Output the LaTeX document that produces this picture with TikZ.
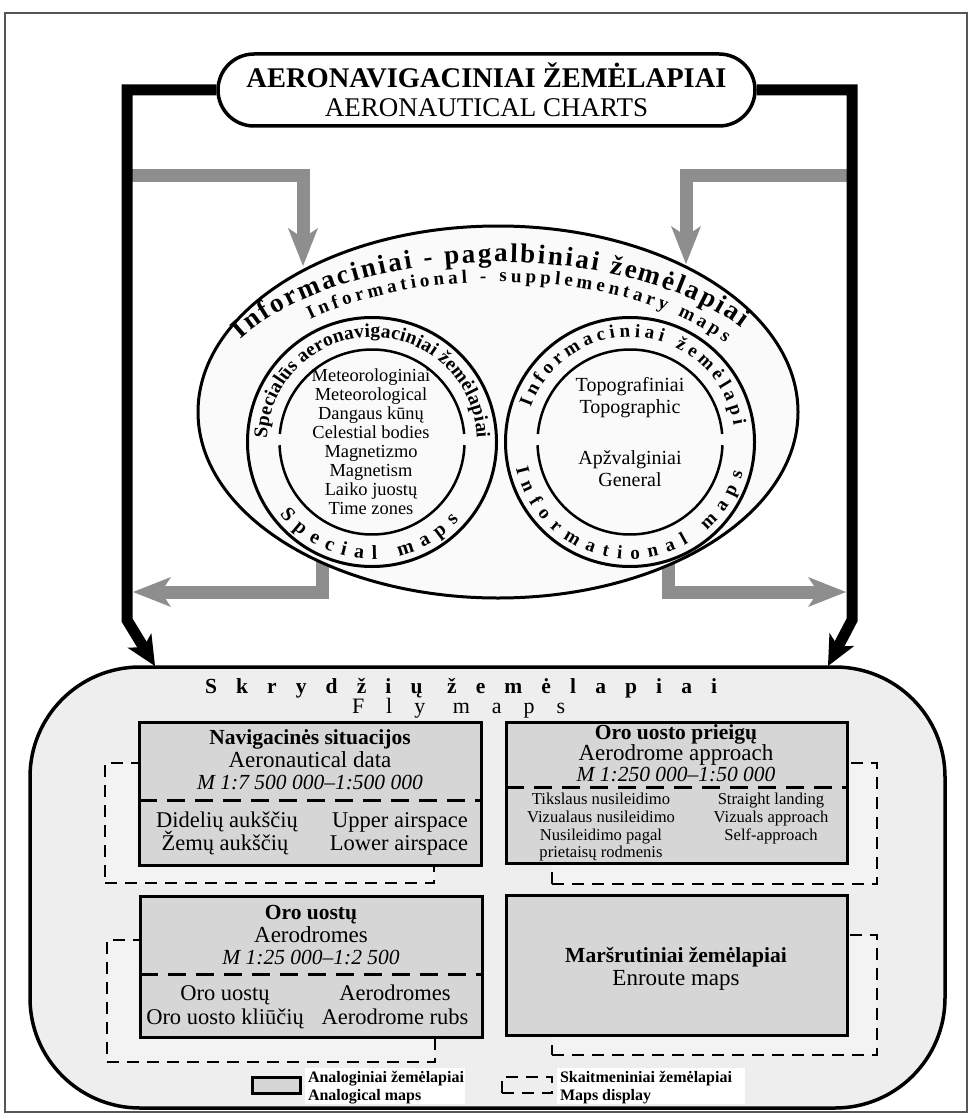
\documentclass[tikz,border=0pt]{standalone}
\usepackage{fontspec}
\setmainfont{Liberation Serif}
\usetikzlibrary{shapes.geometric,shapes.misc,arrows.meta,decorations.text}
\definecolor{boxgray}{HTML}{D6D6D6}
\definecolor{bggray}{HTML}{EEEEEE}
\definecolor{dashfill}{HTML}{F3F3F3}
\definecolor{arrgray}{HTML}{8E8E8E}
\definecolor{ellfill}{HTML}{FAFAFA}
\definecolor{framecol}{HTML}{555555}
\newcommand\fsz[2]{\fontsize{#1}{#2}\selectfont}
\begin{document}
\begin{tikzpicture}[x=1pt,y=1pt,
  t/.style={anchor=base, inner sep=0pt, outer sep=0pt},
  tw/.style={anchor=base west, inner sep=0pt, outer sep=0pt},
  mbox/.style={draw, line width=3pt, fill=boxgray, inner sep=0pt},
  dbox/.style={draw, line width=2.6pt, dash pattern=on 12pt off 8pt, fill=dashfill, inner sep=0pt},
  divider/.style={line width=3pt, dash pattern=on 18pt off 10pt},
  garrow/.style={draw=arrgray, line width=13pt, line join=miter, -{Stealth[length=38pt,width=30pt,inset=10pt,line width=0pt]}},
  barrow/.style={draw=black, line width=11pt, line join=miter, -{Stealth[length=30pt,width=28pt,inset=8pt,line width=0pt]}},
  ring/.style={line width=3pt},
  inring/.style={line width=2.5pt},
  boxb/.style={t, font=\fsz{21.5}{22}\bfseries},
  boxr/.style={t, font=\fsz{23}{24}},
  boxl/.style={t, font=\fsz{22.5}{23}},
  boxi/.style={t, font=\fsz{21.5}{22}\itshape},
  boxs/.style={t, font=\fsz{16.6}{17}},
  circt/.style={t, font=\fsz{18.4}{19}},
  circr/.style={t, font=\fsz{20}{21}},
  legt/.style={tw, font=\fsz{16}{17}\bfseries}
]
\useasboundingbox (0,0) rectangle (973,-1118);
\fill[white] (0,0) rectangle (973,-1118);
\draw[framecol, line width=1.5pt] (5,-13) rectangle (967,-1112);

% bottom container
\node[draw, line width=3.5pt, fill=bggray, rounded corners=110pt, minimum width=915pt, minimum height=441pt, inner sep=0pt] (fly) at (487.5,-887.5) {};
\node[tw, font=\fsz{21.5}{22}\bfseries\addfontfeature{LetterSpace=89}] (flyT) at (205,-693) {Skrydžių žemėlapiai};
\node[tw, font=\fsz{22}{22}\addfontfeature{LetterSpace=100}] (flyE) at (352,-713) {Fly maps};

% dashed back rectangles
\node[dbox, minimum width=329pt, minimum height=120pt] (d1) at (269.5,-823) {};
\node[dbox, minimum width=325pt, minimum height=121pt] (d2) at (714.5,-823.5) {};
\node[dbox, minimum width=328pt, minimum height=122pt] (d3) at (271,-1001) {};
\node[dbox, minimum width=325pt, minimum height=120pt] (d4) at (714.5,-995) {};

% main boxes
\node[mbox, minimum width=342pt, minimum height=143pt] (nav) at (310,-793.5) {};
\node[mbox, minimum width=341pt, minimum height=141pt] (app) at (676.5,-792.5) {};
\node[mbox, minimum width=342pt, minimum height=141pt] (aer) at (311,-966.5) {};
\node[mbox, minimum width=341pt, minimum height=140pt] (enr) at (676.5,-965) {};
\draw[divider] (139,-800) -- (481,-800);
\draw[divider] (506,-787) -- (847,-787);
\draw[divider] (140,-974) -- (482,-974);

% nav texts
\node[boxb] (n1) at (310,-744) {Navigacinės situacijos};
\node[boxr] (n2) at (310,-767) {Aeronautical data};
\node[boxi] (n3) at (310,-789) {M 1:7 500 000–1:500 000};
\node[boxl] (n4) at (227,-827) {Didelių aukščių};
\node[boxl] (n5) at (225,-850) {Žemų aukščių};
\node[boxl] (n6) at (400,-827) {Upper airspace};
\node[boxl] (n7) at (399,-850) {Lower airspace};

% approach texts
\node[boxb] (a1) at (676,-739.5) {Oro uosto prieigų};
\node[boxr] (a2) at (676,-760) {Aerodrome approach};
\node[boxi] (a3) at (676,-781) {M 1:250 000–1:50 000};
\node[boxs] (a4) at (601,-804) {Tikslaus nusileidimo};
\node[boxs] (a5) at (601,-822) {Vizualaus nusileidimo};
\node[boxs] (a6) at (601,-840) {Nusileidimo pagal};
\node[boxs] (a7) at (601,-857) {prietaisų rodmenis};
\node[boxs] (a8) at (771,-804) {Straight landing};
\node[boxs] (a9) at (771,-822) {Vizuals approach};
\node[boxs] (a10) at (771,-840) {Self-approach};

% aerodromes texts
\node[boxb] (r1) at (311,-919.5) {Oro uostų};
\node[boxr] (r2) at (311,-942) {Aerodromes};
\node[boxi] (r3) at (311,-964) {M 1:25 000–1:2 500};
\node[boxl] (r4) at (225,-1000) {Oro uostų};
\node[boxl] (r5) at (225,-1024) {Oro uosto kliūčių};
\node[boxl] (r6) at (395,-1000) {Aerodromes};
\node[boxl] (r7) at (395,-1024) {Aerodrome rubs};

% enroute texts
\node[boxb] (e1) at (676,-962.5) {Maršrutiniai žemėlapiai};
\node[boxr] (e2) at (676,-985) {Enroute maps};

% legend
\node[draw, line width=3pt, fill=boxgray, minimum width=48pt, minimum height=16pt, inner sep=0pt] (lg1) at (276,-1085) {};
\node[fill=white, minimum width=160pt, minimum height=36pt, inner sep=0pt] (lgb1) at (385,-1086) {};
\node[legt] (lt1) at (308,-1082) {Analoginiai žemėlapiai};
\node[legt] (lt2) at (308,-1100) {Analogical maps};
\node[draw, line width=2.6pt, dash pattern=on 12pt off 8pt, minimum width=50pt, minimum height=16pt, inner sep=0pt] (lg2) at (527,-1085) {};
\node[fill=white, minimum width=188pt, minimum height=36pt, inner sep=0pt] (lgb2) at (651,-1086) {};
\node[legt] (lt3) at (560,-1082) {Skaitmeniniai žemėlapiai};
\node[legt] (lt4) at (560,-1100) {Maps display};

% gray arrows
\coordinate (g1a) at (127,-176); \coordinate (g1b) at (303,-176); \coordinate (g1t) at (303,-266);
\coordinate (g2a) at (852,-176); \coordinate (g2b) at (686,-176); \coordinate (g2t) at (686,-264);
\coordinate (g3a) at (322,-540); \coordinate (g3b) at (322,-592); \coordinate (g3t) at (133,-592);
\coordinate (g4a) at (668,-540); \coordinate (g4b) at (668,-592); \coordinate (g4t) at (846,-592);
\draw[garrow] (g1a) -- (g1b) -- (g1t);
\draw[garrow] (g2a) -- (g2b) -- (g2t);
\draw[garrow] (g3a) -- (g3b) -- (g3t);
\draw[garrow] (g4a) -- (g4b) -- (g4t);

% ellipse and circles
\node[ellipse, draw, line width=3pt, fill=ellfill, minimum width=600pt, minimum height=372pt, inner sep=0pt] (info) at (498,-412) {};
\node[circle, draw, ring, fill=ellfill, minimum size=249pt, inner sep=0pt] (spec) at (372,-442) {};
\node[circle, draw, ring, fill=ellfill, minimum size=249pt, inner sep=0pt] (infm) at (630,-442) {};
\draw[inring] ([shift={(5:92.5)}]spec.center) arc[start angle=5, end angle=175, radius=92.5];
\draw[inring] ([shift={(182:92.5)}]spec.center) arc[start angle=182, end angle=358, radius=92.5];
\draw[inring] ([shift={(5:92.5)}]infm.center) arc[start angle=5, end angle=175, radius=92.5];
\draw[inring] ([shift={(182:92.5)}]infm.center) arc[start angle=182, end angle=358, radius=92.5];

% ring texts
\path[decorate, decoration={text along path, text align=fit to path, text={|\fsz{27}{27}\bfseries|Informaciniai - pagalbiniai žemėlapiai}}]
  ([shift={(151:294 and 150)}]info.center) arc[start angle=151, end angle=34, x radius=294, y radius=150];
\path[decorate, decoration={text along path, text align=fit to path, text={|\fsz{19}{19}\bfseries|Informational - supplementary maps}}]
  ([shift={(134.5:268 and 130)}]info.center) arc[start angle=134.5, end angle=32, x radius=268, y radius=130];
\path[decorate, decoration={text along path, text align=fit to path, text={|\fsz{19.5}{20}\bfseries|Specialūs aeronavigaciniai žemėlapiai}}]
  ([shift={(178:105)}]spec.center) arc[start angle=178, end angle=2, radius=105];
\path[decorate, decoration={text along path, text align=fit to path, text={|\fsz{20}{20}\bfseries|Special maps}}]
  ([shift={(218:117)}]spec.center) arc[start angle=218, end angle=318, radius=117];
\path[decorate, decoration={text along path, text align=fit to path, text={|\fsz{19}{19}\bfseries|Informaciniai žemėlapi}}]
  ([shift={(161:105)}]infm.center) arc[start angle=161, end angle=9, radius=105];
\path[decorate, decoration={text along path, text align=fit to path, text={|\fsz{19}{19}\bfseries|Informational maps}}]
  ([shift={(193:117)}]infm.center) arc[start angle=193, end angle=345, radius=117];

% circle contents
\node[circt] (s1) at (371,-381) {Meteorologiniai};
\node[circt] (s2) at (371,-400) {Meteorological};
\node[circt] (s3) at (371,-419) {Dangaus kūnų};
\node[circt] (s4) at (371,-438) {Celestial bodies};
\node[circt] (s5) at (371,-457) {Magnetizmo};
\node[circt] (s6) at (371,-476) {Magnetism};
\node[circt] (s7) at (371,-495) {Laiko juostų};
\node[circt] (s8) at (371,-514) {Time zones};
\node[circr] (i1) at (630,-391.5) {Topografiniai};
\node[circr] (i2) at (630,-413.5) {Topographic};
\node[circr] (i3) at (630,-464.5) {Apžvalginiai};
\node[circr] (i4) at (630,-486.5) {General};

% top node and black connectors
\node[rounded rectangle, draw, line width=3.5pt, fill=white, minimum width=537pt, minimum height=72pt, inner sep=0pt] (top) at (486.5,-90) {};
\node[t, font=\fsz{28.5}{29}\bfseries] (tt1) at (486.5,-87.5) {AERONAVIGACINIAI ŽEMĖLAPIAI};
\node[t, font=\fsz{27}{28}] (tt2) at (486.5,-117) {AERONAUTICAL CHARTS};
\coordinate (b1a) at (127,-90); \coordinate (b1b) at (127,-620); \coordinate (b1t) at (155,-666);
\coordinate (b2a) at (852,-90); \coordinate (b2b) at (852,-620); \coordinate (b2t) at (828,-666);
\draw[barrow] (top.west) -- (b1a) -- (b1b) -- (b1t);
\draw[barrow] (top.east) -- (b2a) -- (b2b) -- (b2t);
\end{tikzpicture}
\end{document}
